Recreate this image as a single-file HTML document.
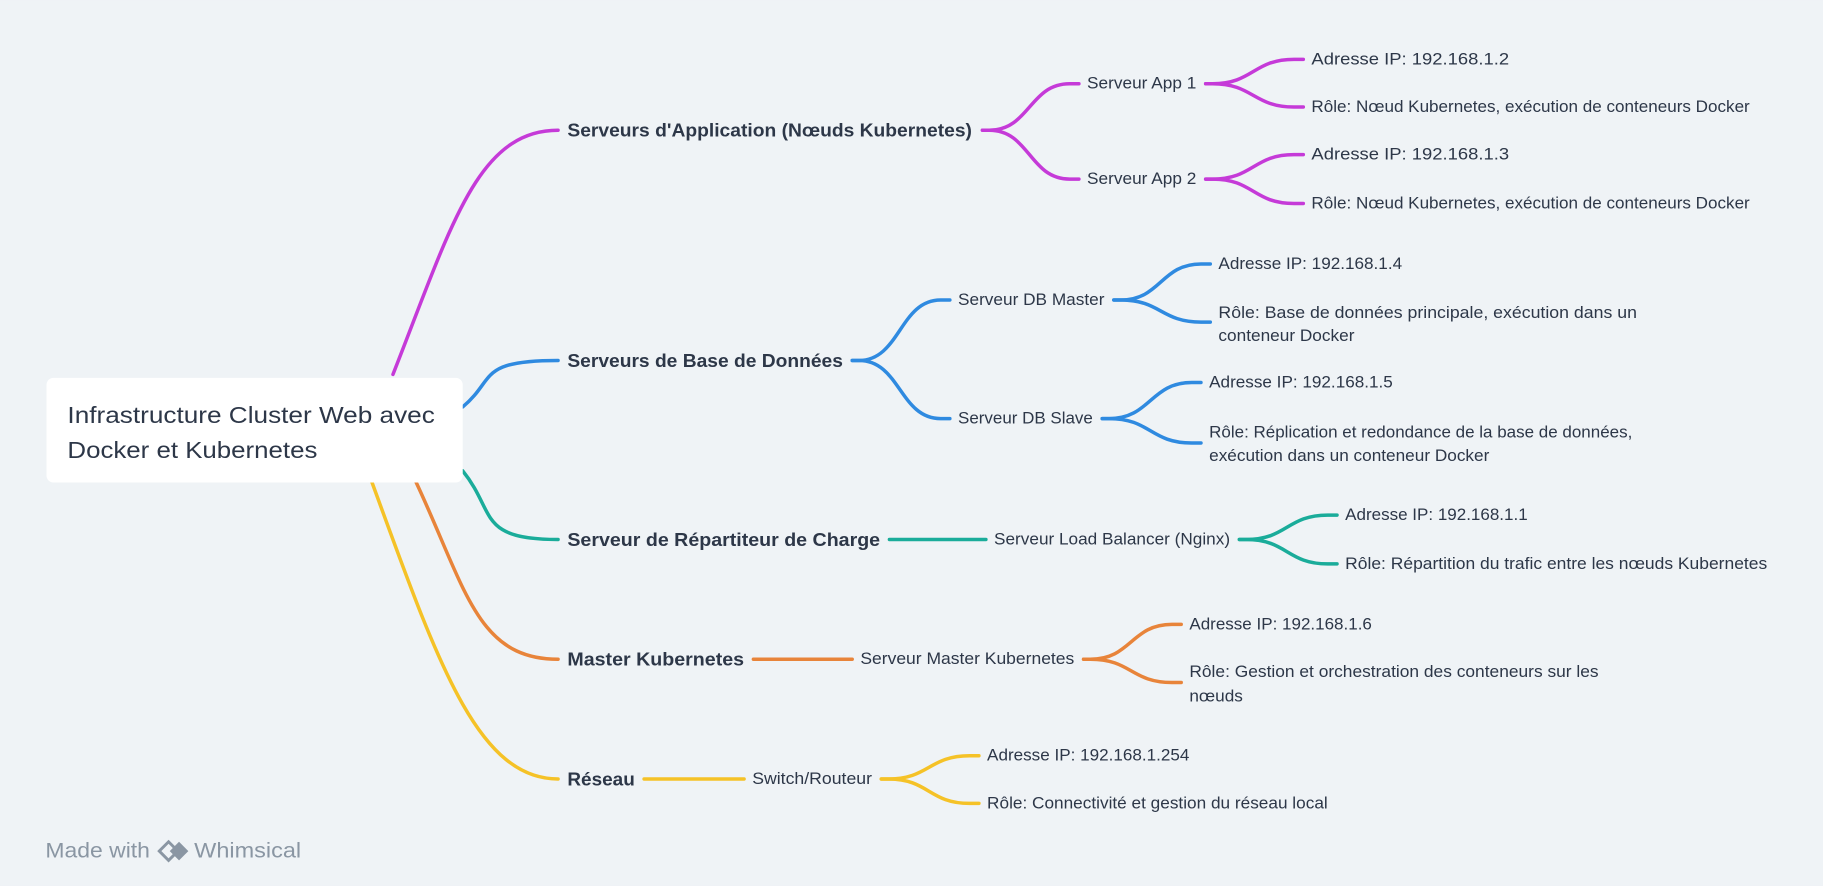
<!DOCTYPE html>
<html><head><meta charset="utf-8">
<style>
html,body{margin:0;padding:0;background:#eff3f6;}
svg{display:block;}
text{font-family:"Liberation Sans","DejaVu Sans",sans-serif;fill:#2d3748;}
</style></head>
<body>
<svg id="map" width="1823" height="886" viewBox="0 0 1568 762" xmlns="http://www.w3.org/2000/svg">
<rect x="0" y="0" width="1568" height="762" fill="#eff3f6"/>
<g id="lines"></g>
<rect x="40" y="325" width="358" height="90" rx="6" fill="#ffffff"/>
<text x="58" y="357" font-size="20" dominant-baseline="central" textLength="316" lengthAdjust="spacingAndGlyphs">Infrastructure Cluster Web avec</text>
<text x="58" y="387" font-size="20" dominant-baseline="central" textLength="215" lengthAdjust="spacingAndGlyphs">Docker et Kubernetes</text>
<g id="labels"></g>
<g>
<text x="39" y="732" font-size="18" dominant-baseline="central" fill="#8a96a3" style="fill:#8a96a3" textLength="90" lengthAdjust="spacingAndGlyphs">Made with</text>
<g>
<path d="M137 732 L145 724 L153 732 L145 740 Z" fill="none" stroke="#8a96a3" stroke-width="2.5"/>
<path d="M146 732 L154 724 L162 732 L154 740 Z" fill="#8a96a3"/>
</g>
<text x="167" y="732" font-size="18" dominant-baseline="central" style="fill:#8a96a3" textLength="92" lengthAdjust="spacingAndGlyphs">Whimsical</text>
</g>
</svg>
<script>
const NS="http://www.w3.org/2000/svg";
const lines=document.getElementById('lines');
const labels=document.getElementById('labels');
function curve(x0,y0,x1,y1,color,name){
  const p=document.createElementNS(NS,'path');
  const a=x0+6, b=x1-8, m=(a+b)/2;
  p.setAttribute('d',`M${x0} ${y0} L${a} ${y0} C${m} ${y0} ${m} ${y1} ${b} ${y1} L${x1} ${y1}`);
  p.setAttribute('fill','none');p.setAttribute('stroke',color);p.setAttribute('stroke-width','3');p.setAttribute('stroke-linecap','round');
  
  
  lines.appendChild(p);
}
function rootCurve(x0,y0,x1,y1,color,name){
  const p=document.createElementNS(NS,'path');
  p.setAttribute('d',`M${x0} ${y0} C${x0+ (x1-x0)*0.35} ${y0+(y1-y0)*0.6} ${x1-70} ${y1} ${x1} ${y1}`);
  p.setAttribute('fill','none');p.setAttribute('stroke',color);p.setAttribute('stroke-width','3');p.setAttribute('stroke-linecap','round');
  
  
  lines.appendChild(p);
}
function label(x,y,txt,w,size,bold,name){
  const t=document.createElementNS(NS,'text');
  t.setAttribute('x',x);t.setAttribute('y',y);t.setAttribute('font-size',size);
  t.setAttribute('dominant-baseline','central');
  if(bold)t.setAttribute('font-weight','bold');
  t.setAttribute('textLength',w);t.setAttribute('lengthAdjust','spacingAndGlyphs');
  t.textContent=txt;
  
  
  labels.appendChild(t);
}
const P='#c53ad8',B='#2f8ae0',T='#1aac9a',O='#e8843a',Y='#f5c227';
// root connectors
rootCurve(338,322,480,112,P,'connector-app');
rootCurve(398,350,480,310,B,'connector-db');
rootCurve(398,405,480,464,T,'connector-lb');
rootCurve(358,415,480,567,O,'connector-master');
rootCurve(320,415,480,670,Y,'connector-network');
// level 1 -> 2
curve(845,112,928,72,P,'connector-app1');curve(845,112,928,154,P,'connector-app2');
curve(733,310,817,258,B,'connector-dbmaster');curve(733,310,817,360,B,'connector-dbslave');
curve(765,464,848,464,T,'connector-lbserver');
curve(648,567,733,567,O,'connector-masterserver');
curve(554,670,640,670,Y,'connector-switch');
// level 2 -> leaves
curve(1037,72,1121,51,P,'c1');curve(1037,72,1121,92,P,'c2');
curve(1037,154,1121,133,P,'c3');curve(1037,154,1121,175,P,'c4');
curve(958,258,1041,227,B,'c5');curve(958,258,1041,277,B,'c6');
curve(948,360,1033,329,B,'c7');curve(948,360,1033,381,B,'c8');
curve(1066,464,1150,443,T,'c9');curve(1066,464,1150,485,T,'c10');
curve(932,567,1016,537,O,'c11');curve(932,567,1016,587,O,'c12');
curve(758,670,842,650,Y,'c13');curve(758,670,842,691,Y,'c14');
// labels level1
label(488,112,"Serveurs d'Application (Nœuds Kubernetes)",348,16,true,'app-servers-node');
label(488,310,"Serveurs de Base de Données",237,16,true,'db-servers-node');
label(488,464,"Serveur de Répartiteur de Charge",269,16,true,'load-balancer-node');
label(488,567,"Master Kubernetes",152,16,true,'k8s-master-node');
label(488,670,"Réseau",58,16,true,'network-node');
// level2
label(935,72,"Serveur App 1",94,14,false,'app1-node');
label(935,154,"Serveur App 2",94,14,false,'app2-node');
label(824,258,"Serveur DB Master",126,14,false,'db-master-node');
label(824,360,"Serveur DB Slave",116,14,false,'db-slave-node');
label(855,464,"Serveur Load Balancer (Nginx)",203,14,false,'lb-server-node');
label(740,567,"Serveur Master Kubernetes",184,14,false,'master-server-node');
label(647,670,"Switch/Routeur",103,14,false,'switch-node');
// leaves
label(1128,51,"Adresse IP: 192.168.1.2",170,14,false,'app1-ip');
label(1128,92,"Rôle: Nœud Kubernetes, exécution de conteneurs Docker",377,14,false,'app1-role');
label(1128,133,"Adresse IP: 192.168.1.3",170,14,false,'app2-ip');
label(1128,175,"Rôle: Nœud Kubernetes, exécution de conteneurs Docker",377,14,false,'app2-role');
label(1048,227,"Adresse IP: 192.168.1.4",158,14,false,'dbmaster-ip');
label(1048,269,"Rôle: Base de données principale, exécution dans un",360,14,false,'dbmaster-role-1');
label(1048,289,"conteneur Docker",117,14,false,'dbmaster-role-2');
label(1040,329,"Adresse IP: 192.168.1.5",158,14,false,'dbslave-ip');
label(1040,372,"Rôle: Réplication et redondance de la base de données,",364,14,false,'dbslave-role-1');
label(1040,392,"exécution dans un conteneur Docker",241,14,false,'dbslave-role-2');
label(1157,443,"Adresse IP: 192.168.1.1",157,14,false,'lb-ip');
label(1157,485,"Rôle: Répartition du trafic entre les nœuds Kubernetes",363,14,false,'lb-role');
label(1023,537,"Adresse IP: 192.168.1.6",157,14,false,'master-ip');
label(1023,578,"Rôle: Gestion et orchestration des conteneurs sur les",352,14,false,'master-role-1');
label(1023,599,"nœuds",46,14,false,'master-role-2');
label(849,650,"Adresse IP: 192.168.1.254",174,14,false,'switch-ip');
label(849,691,"Rôle: Connectivité et gestion du réseau local",293,14,false,'switch-role');
</script>
</body></html>
